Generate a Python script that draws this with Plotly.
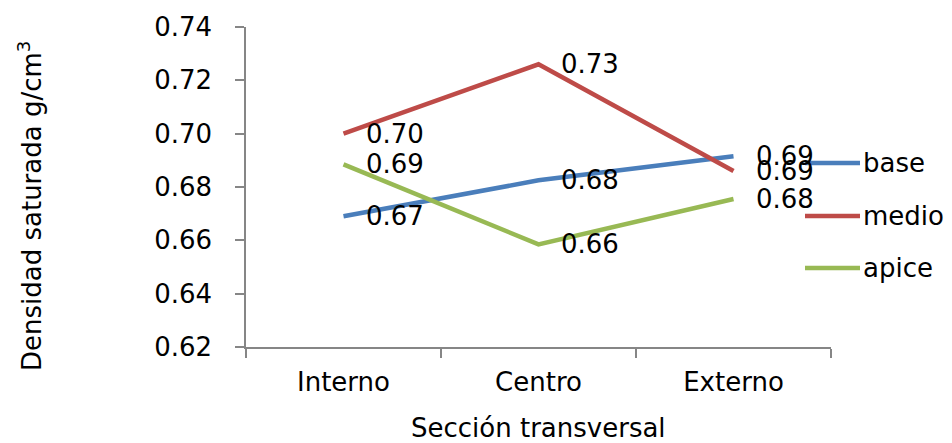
import plotly.graph_objects as go

categories = ["Interno", "Centro", "Externo"]
series_names = ["base", "medio", "apice"]
base = [0.669, 0.6825, 0.6915]
medio = [0.700, 0.726, 0.686]
apice = [0.6885, 0.6585, 0.6755]
colors = ["#4A7EBB", "#BE4B48", "#98B954"]
y_ticks = [0.62, 0.64, 0.66, 0.68, 0.70, 0.72, 0.74]

FONT = "DejaVu Sans, Liberation Sans, Arial, sans-serif"
FS = 26

# page has an 8px body margin; work in figure coords = page coords - 8
OFF = 8
W, H = 952 - OFF, 443 - OFF
L, T = 246 - OFF, 27 - OFF
R = W - (831 - OFF)
B = H - (347 - OFF)
pw, ph = W - L - R, H - T - B


def px_to_paper_x(px):
    return (px - OFF - L) / pw


def px_to_paper_y(py):
    return 1 - (py - OFF - T) / ph


fig = go.Figure()
all_series = [base, medio, apice]
annotations = []
for name, vals, col in zip(series_names, all_series, colors):
    fig.add_trace(go.Scatter(x=categories, y=vals, mode="lines", name=name,
                             line=dict(color=col, width=4.5), showlegend=False))
    for c, v in zip(categories, vals):
        annotations.append(dict(x=c, y=v, xref="x", yref="y", text=f"{v:.2f}",
                                showarrow=False, xanchor="left", yanchor="middle",
                                xshift=20, font=dict(family=FONT, size=FS, color="black")))

# custom legend
shapes = []
leg_x0, leg_x1 = 805, 860
leg_y = [163, 216, 268]
for name, col, yy in zip(series_names, colors, leg_y):
    py = px_to_paper_y(yy)
    shapes.append(dict(type="line", xref="paper", yref="paper",
                       x0=px_to_paper_x(leg_x0), x1=px_to_paper_x(leg_x1), y0=py, y1=py,
                       line=dict(color=col, width=4.5)))
    annotations.append(dict(x=px_to_paper_x(leg_x1 + 1), y=py, xref="paper", yref="paper", text=name,
                            showarrow=False, xanchor="left", yanchor="middle",
                            font=dict(family=FONT, size=FS, color="black")))

# axis titles
annotations.append(dict(x=px_to_paper_x(538), y=px_to_paper_y(428), xref="paper", yref="paper",
                        text="Sección transversal", showarrow=False, xanchor="center", yanchor="middle",
                        font=dict(family=FONT, size=FS, color="black")))
annotations.append(dict(x=px_to_paper_x(30), y=px_to_paper_y(206), xref="paper", yref="paper",
                        text="Densidad saturada g/cm<sup>3</sup>", showarrow=False, textangle=-90,
                        xanchor="center", yanchor="middle",
                        font=dict(family=FONT, size=FS, color="black")))

fig.update_layout(
    width=W, height=H,
    margin=dict(l=L, r=R, t=T, b=B, autoexpand=False),
    paper_bgcolor="white", plot_bgcolor="white",
    font=dict(family=FONT, size=FS, color="black"),
    annotations=annotations, shapes=shapes,
    showlegend=False,
)
fig.update_xaxes(
    type="category", range=[-0.5, 2.5], tickson="boundaries",
    showline=True, linecolor="#868686", linewidth=1.5,
    ticks="outside", ticklen=9, tickcolor="#868686", tickwidth=1.5,
    showgrid=False, zeroline=False,
    tickfont=dict(family=FONT, size=FS), ticklabelstandoff=11,
)
fig.update_yaxes(
    range=[0.62, 0.74], tickvals=y_ticks, ticktext=[f"{t:.2f}" for t in y_ticks],
    showline=True, linecolor="#868686", linewidth=1.5,
    ticks="outside", ticklen=9, tickcolor="#868686", tickwidth=1.5,
    showgrid=False, zeroline=False,
    tickfont=dict(family=FONT, size=FS), ticklabelstandoff=18,
)
fig.write_html("out.html")
